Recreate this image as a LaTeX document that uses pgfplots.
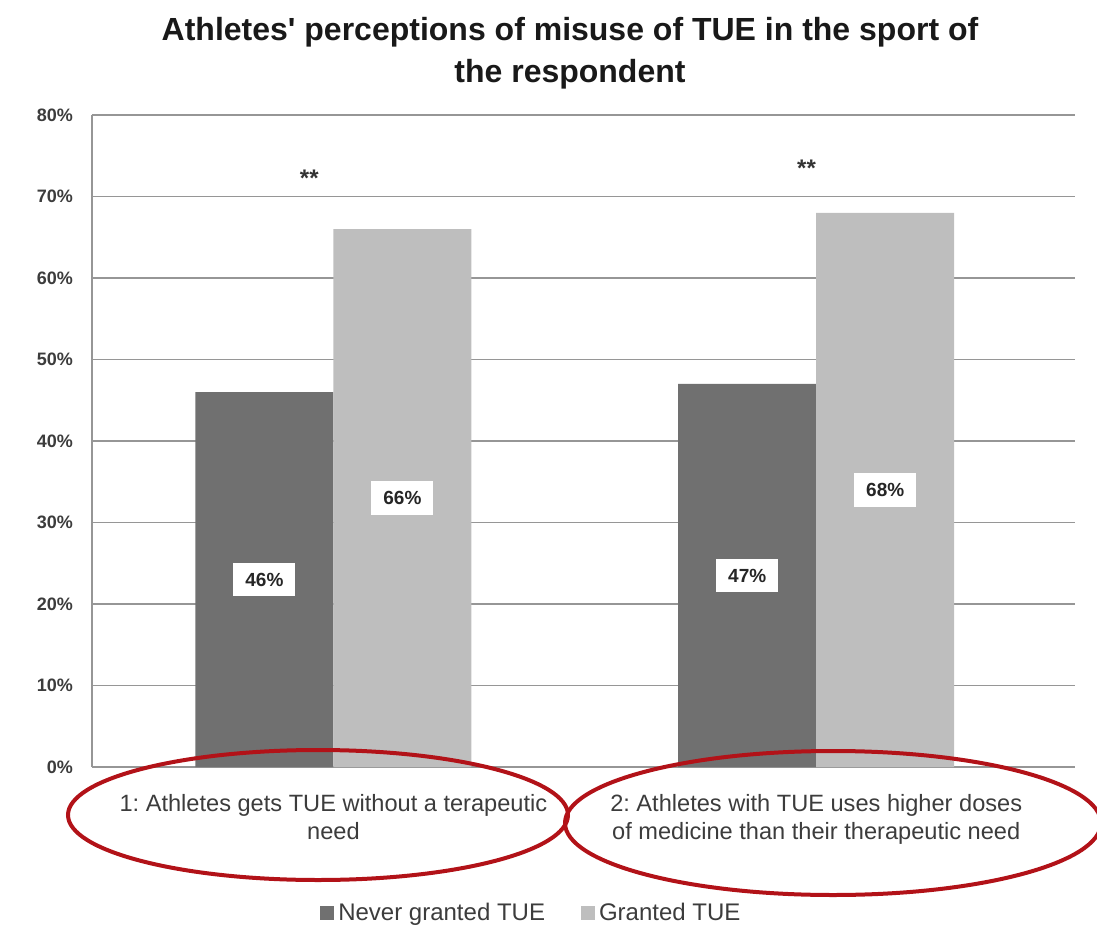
\documentclass[border=0pt]{standalone}
\usepackage{pgfplots}
\pgfplotsset{compat=1.18}
\usepackage{fontspec}
\setmainfont{Liberation Sans}
\frenchspacing

\definecolor{barDark}{RGB}{112,112,112}
\definecolor{barLight}{RGB}{190,190,190}
\definecolor{gridGray}{RGB}{150,150,150}
\definecolor{txtGray}{RGB}{60,60,60}
\definecolor{ringRed}{RGB}{178,18,24}

\begin{document}
\begin{tikzpicture}
\useasboundingbox (-46pt,-80pt) rectangle (502.5pt,383.5pt);
\begin{axis}[
    scale only axis,
    width=491.5pt, height=326pt,
    xmin=-0.5, xmax=1.536,
    ymin=0, ymax=80,
    xtick={0,1},
    xticklabels={{1: Athletes gets TUE without a terapeutic\\need},
                 {2: Athletes with TUE uses higher doses\\of medicine than their therapeutic need}},
    xticklabel style={align=center, font=\fontsize{11.8}{14}\selectfont, text=txtGray, yshift=-10pt},
    ytick={0,10,20,30,40,50,60,70,80},
    yticklabels={0\%,10\%,20\%,30\%,40\%,50\%,60\%,70\%,80\%},
    yticklabel style={font=\fontsize{9}{10}\selectfont\bfseries, text=txtGray, xshift=-6pt},
    major tick length=0pt,
    axis lines=left,
    axis line style={-, gridGray, line width=0.8pt},
    ymajorgrids=true,
    grid style={gridGray, line width=0.7pt},
    ybar, bar width=69pt,
    /pgf/number format/assume math mode=true,
    visualization depends on=y \as \rawy,
    nodes near coords={\pgfmathprintnumber{\pgfplotspointmeta}\%},
    every node near coord/.append style={
        anchor=center, shift={(axis direction cs:0,-0.5*\rawy)},
        fill=white, text=black!85, font=\fontsize{9.5}{10}\selectfont\bfseries,
        inner xsep=6pt, inner ysep=5pt},
    legend style={at={(0.448,-0.224)}, anchor=center, draw=none,
        legend columns=2, font=\fontsize{12}{13}\selectfont, text=txtGray,
        /tikz/every even column/.append style={column sep=16pt}},
    legend image code/.code={\fill[#1,draw=none] (0pt,-3.5pt) rectangle (7pt,3.5pt);},
    clip=false,
]
\addplot[fill=barDark, draw=none, bar shift=-34.5pt] coordinates {(0,46) (1,47)};
\addplot[fill=barLight, draw=none, bar shift=34.5pt] coordinates {(0,66) (1,68)};
\legend{Never granted TUE, Granted TUE}
\node[font=\fontsize{12}{12}\selectfont\bfseries, text=black!80] at (axis cs:-0.05,72.3) {**};
\node[font=\fontsize{12}{12}\selectfont\bfseries, text=black!80] at (axis cs:0.98,73.5) {**};
\end{axis}
\node[align=center, font=\fontsize{16}{21}\selectfont\bfseries, text=black!90]
    at (239pt,357pt) {Athletes\textquotesingle{} perceptions of misuse of TUE in the sport of\\the respondent};
\draw[ringRed, line width=2pt] (113pt,-24pt) ellipse [x radius=125pt, y radius=32.5pt];
\draw[ringRed, line width=2pt] (370.5pt,-28pt) ellipse [x radius=134pt, y radius=36pt];
\end{tikzpicture}
\end{document}
